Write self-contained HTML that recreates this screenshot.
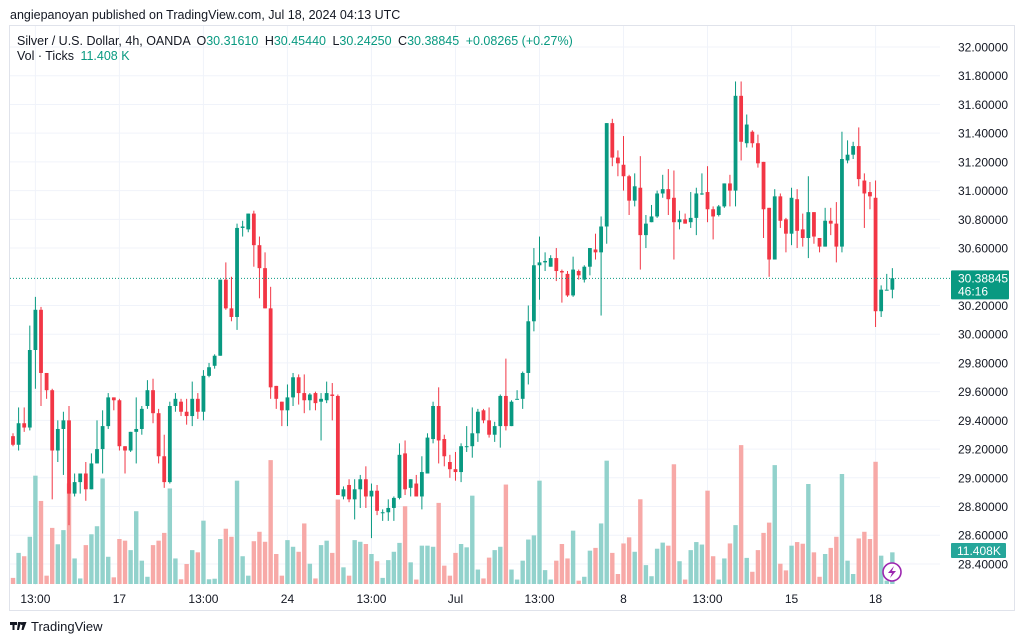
<!DOCTYPE html>
<html><head><meta charset="utf-8"><style>
html,body{margin:0;padding:0;background:#fff;width:1024px;height:643px;overflow:hidden;font-family:"Liberation Sans",sans-serif;}
svg text{font-family:"Liberation Sans",sans-serif;}
</style></head><body>
<svg id="chart" width="1024" height="643" viewBox="0 0 1024 643" xmlns="http://www.w3.org/2000/svg">
<text x="10" y="19" font-size="12.5" fill="#131722">angiepanoyan published on TradingView.com, Jul 18, 2024 04:13 UTC</text>
<rect x="9.5" y="25.5" width="1005" height="585" fill="none" stroke="#e0e3eb"/>
<g id="grid"></g>
<g id="vol"></g>
<g id="candles"></g>
<g id="axis"></g>
<g font-size="12.5">
<text x="17" y="45" fill="#131722">Silver / U.S. Dollar, 4h, OANDA <tspan dx="3">O</tspan><tspan fill="#089981">30.31610</tspan> <tspan dx="3">H</tspan><tspan fill="#089981">30.45440</tspan> <tspan dx="3">L</tspan><tspan fill="#089981">30.24250</tspan> <tspan dx="3">C</tspan><tspan fill="#089981">30.38845</tspan> <tspan dx="3" fill="#089981">+0.08265 (+0.27%)</tspan></text>
<text x="17" y="60" fill="#131722">Vol · Ticks <tspan dx="3" fill="#089981">11.408 K</tspan></text>
</g>
<g>
<path d="M10 622h7v3h-2.5v5h-2v-5h-2.5z M18 622h3l-2 8h-2z" fill="#131722"/>
<circle cx="22" cy="623.5" r="1.5" fill="#131722"/>
<path d="M23 622h3.5l-3 8h-2z" fill="#131722"/>
<text x="31" y="631" font-size="13" fill="#131722">TradingView</text>
</g>
</svg>
<script>
const opens=[29.29,29.23,29.38,29.35,29.89,30.17,29.73,29.61,29.19,29.34,29.40,28.89,28.97,29.03,28.92,29.10,29.20,29.36,29.56,29.54,29.22,29.19,29.32,29.34,29.50,29.61,29.45,29.15,28.97,29.50,29.53,29.46,29.43,29.55,29.46,29.71,29.78,29.85,30.38,30.18,30.12,30.74,30.73,30.84,30.62,30.46,30.18,29.64,29.53,29.47,29.56,29.70,29.59,29.54,29.59,29.53,29.54,29.58,29.57,28.87,28.95,28.85,28.92,28.99,28.87,28.91,28.76,28.76,28.79,28.86,29.17,28.93,28.96,28.87,29.03,29.27,29.50,29.27,29.11,29.06,29.04,29.22,29.22,29.31,29.47,29.40,29.30,29.36,29.57,29.36,29.55,29.55,29.73,30.09,30.48,30.50,30.47,30.53,30.44,30.42,30.27,30.44,30.38,30.47,30.59,30.57,30.75,31.47,31.23,31.18,31.10,30.93,31.02,30.69,30.78,30.82,30.98,31.01,30.95,30.78,30.80,30.78,30.81,30.98,30.99,30.87,30.83,30.89,31.05,31.00,31.66,31.33,31.41,31.33,31.20,30.88,30.52,30.96,30.80,30.70,30.94,30.73,30.67,30.85,30.67,30.61,30.79,30.77,30.61,31.21,31.25,31.31,31.07,30.99,30.95,30.16,30.31,30.31];
const highs=[29.31,29.49,29.49,30.06,30.26,30.19,29.73,29.62,29.40,29.46,29.50,29.03,29.03,29.11,29.17,29.40,29.47,29.59,29.56,29.55,29.22,29.32,29.56,29.50,29.68,29.69,29.48,29.30,29.53,29.59,29.55,29.55,29.67,29.59,29.75,29.80,29.86,30.38,30.50,30.40,30.77,30.79,30.84,30.86,30.68,30.57,30.33,29.64,29.53,29.65,29.73,29.72,29.72,29.59,29.60,29.59,29.67,29.66,29.58,28.94,28.99,28.99,29.02,29.08,28.96,28.95,28.78,28.85,28.87,29.24,29.26,28.99,29.02,29.15,29.31,29.53,29.63,29.30,29.16,29.18,29.24,29.36,29.49,29.48,29.48,29.49,29.39,29.58,29.83,29.54,29.61,29.74,30.20,30.60,30.68,30.57,30.55,30.60,30.45,30.44,30.54,30.45,30.48,30.60,30.70,30.82,31.47,31.50,31.28,31.38,31.11,31.12,31.24,30.83,30.90,31.00,31.11,31.15,31.14,30.86,30.84,30.99,31.02,31.12,31.17,30.89,30.90,31.05,31.11,31.76,31.76,31.53,31.42,31.39,31.20,30.88,31.01,30.98,30.81,31.02,31.01,30.84,31.10,30.85,30.67,30.88,30.88,30.92,31.41,31.35,31.34,31.44,31.12,31.06,31.07,30.34,30.42,30.46];
const lows=[29.22,29.19,29.32,29.33,29.62,29.50,29.55,28.85,29.11,29.02,28.67,28.87,28.89,28.84,28.92,29.10,29.03,29.34,29.47,29.19,29.03,29.18,29.10,29.30,29.48,29.38,29.10,28.93,28.96,29.46,29.43,29.37,29.36,29.41,29.40,29.70,29.76,29.85,30.17,30.09,30.03,30.68,30.71,30.47,30.25,30.18,29.55,29.48,29.36,29.36,29.50,29.51,29.45,29.47,29.47,29.26,29.52,29.40,28.88,28.85,28.83,28.71,28.79,28.79,28.58,28.74,28.70,28.70,28.70,28.85,28.88,28.87,28.87,28.78,29.03,29.24,29.10,29.08,29.00,28.98,28.97,29.18,29.14,29.25,29.38,29.28,29.25,29.21,29.33,29.36,29.55,29.48,29.65,30.02,30.24,30.44,30.47,30.37,30.22,30.26,30.26,30.38,30.36,30.41,30.52,30.13,30.63,31.17,31.10,31.00,30.83,30.89,30.45,30.60,30.78,30.81,30.95,30.83,30.52,30.73,30.77,30.74,30.69,30.97,30.78,30.66,30.82,30.88,30.89,30.89,31.21,31.30,31.30,31.16,30.67,30.40,30.52,30.74,30.57,30.62,30.60,30.61,30.53,30.63,30.57,30.61,30.69,30.50,30.57,31.19,31.22,31.03,30.74,30.87,30.05,30.12,30.31,30.25];
const closes=[29.23,29.38,29.35,29.89,30.17,29.73,29.61,29.19,29.34,29.40,28.89,28.97,29.03,28.92,29.10,29.20,29.36,29.56,29.54,29.22,29.19,29.32,29.34,29.48,29.61,29.45,29.15,28.97,29.50,29.55,29.46,29.43,29.55,29.46,29.71,29.77,29.85,30.38,30.18,30.12,30.74,30.75,30.84,30.62,30.46,30.18,29.63,29.55,29.47,29.56,29.70,29.59,29.54,29.58,29.52,29.55,29.59,29.57,28.88,28.92,28.85,28.92,28.99,28.87,28.91,28.77,28.76,28.79,28.86,29.16,28.92,28.99,28.87,29.04,29.28,29.50,29.26,29.15,29.06,29.04,29.22,29.22,29.31,29.46,29.40,29.30,29.36,29.57,29.36,29.53,29.55,29.73,30.09,30.48,30.50,30.51,30.53,30.44,30.43,30.27,30.45,30.41,30.47,30.60,30.57,30.75,31.47,31.23,31.19,31.10,30.93,31.03,30.69,30.77,30.82,30.98,31.01,30.94,30.78,30.80,30.77,30.81,30.98,30.98,30.87,30.82,30.89,31.05,31.00,31.66,31.34,31.46,31.33,31.19,30.87,30.52,30.96,30.79,30.70,30.95,30.72,30.67,30.85,30.68,30.61,30.79,30.77,30.61,31.22,31.25,31.31,31.08,30.98,30.96,30.16,30.31,30.31,30.39];
const volumes=[2.2,11.2,10.0,17.0,39.0,29.9,3.0,20.2,14.3,19.4,36.2,9.2,2.0,14.0,17.9,20.8,38.0,9.8,2.4,16.2,15.6,12.2,26.2,8.4,2.6,14.0,15.6,18.4,34.4,9.2,1.7,7.2,12.2,11.4,22.8,1.7,1.9,16.2,19.9,17.0,37.2,10.0,3.0,15.4,18.8,15.2,44.6,10.8,3.0,15.8,13.4,11.6,21.8,7.3,2.0,14.0,15.6,11.2,30.4,6.0,3.0,15.8,15.2,14.4,10.8,8.2,2.2,8.6,11.6,14.8,28.0,7.8,1.6,13.8,13.8,13.4,29.2,6.6,3.0,11.2,14.4,13.2,31.8,5.2,2.0,9.5,12.2,13.4,35.8,5.2,1.6,8.4,16.0,17.5,37.2,5.0,1.6,8.4,14.4,9.2,19.2,1.2,2.6,12.0,13.0,21.8,44.4,11.2,3.6,14.6,16.8,11.6,30.5,6.8,2.8,12.7,14.9,13.8,43.1,8.2,1.6,12.2,15.1,14.2,33.6,10.0,1.6,9.2,14.6,21.2,50.0,9.4,4.4,12.2,18.4,22.1,42.8,7.3,4.9,13.8,15.1,14.5,36.0,11.4,2.6,10.8,13.0,17.0,39.6,8.4,3.6,16.4,18.8,16.2,44.0,10.2,1.2,11.4];
const priceTicks=[32.0,31.8,31.6,31.4,31.2,31.0,30.8,30.6,30.2,30.0,29.8,29.6,29.4,29.2,29.0,28.8,28.6,28.4];
const timeLabels=["13:00","17","13:00","24","13:00","Jul","13:00","8","13:00","15","18"];
const timeIndex=[4,19,34,49,64,79,94,109,124,139,154];
const lastPrice=30.38845, lastVolume=11.408;

const NS="http://www.w3.org/2000/svg";
const yP=p=>47+(32-p)*143.6;
const xI=i=>13+i*5.601;
const yV=v=>584-v/0.36;
function mk(tag,attrs,parent){const e=document.createElementNS(NS,tag);for(const k in attrs)e.setAttribute(k,attrs[k]);parent.appendChild(e);return e;}
const grid=document.getElementById('grid'),vol=document.getElementById('vol'),cg=document.getElementById('candles'),ax=document.getElementById('axis');
priceTicks.forEach(p=>{
  const l=mk('line',{x1:10,x2:940,y1:yP(p),y2:yP(p),stroke:'#f0f3fa'},grid);
  
  
  const t=mk('text',{x:958,y:yP(p)+4.5,'font-size':12,fill:'#131722'},ax);
  
  
  t.textContent=p.toFixed(5);
});
timeLabels.forEach((s,k)=>{
  const x=xI(timeIndex[k])+(k===0?0:0);
  const l=mk('line',{x1:x,x2:x,y1:26,y2:585,stroke:'#f0f3fa'},grid);
  
  
  const t=mk('text',{x:x,y:603,'font-size':12,fill:'#131722','text-anchor':'middle'},ax);
  
  
  t.textContent=s;
});
volumes.forEach((v,i)=>{
  const up=closes[i]>=opens[i];
  const r=mk('rect',{x:xI(i)-2.2,y:yV(v),width:4.4,height:584-yV(v),fill:up?'#92d2cc':'#f7a9a7'},vol);
  
  
});
opens.forEach((o,i)=>{
  const c=closes[i],up=c>=o,col=up?'#089981':'#f23645';
  const g=mk('g',{},cg);
  
  
  mk('line',{x1:xI(i),x2:xI(i),y1:yP(highs[i]),y2:yP(lows[i]),stroke:col,'stroke-width':1},g);
  const top=yP(Math.max(o,c)),h=Math.max(1,yP(Math.min(o,c))-top);
  mk('rect',{x:xI(i)-1.9,y:top,width:3.8,height:h,fill:col},g);
});
const ly=yP(lastPrice);
const dl=mk('line',{x1:10,x2:950,y1:ly,y2:ly,stroke:'#089981','stroke-dasharray':'1 2'},ax);


const pb=mk('rect',{x:951,y:ly-8,width:58,height:29,fill:'#089981',rx:1},ax);


const pt=mk('text',{x:958,y:ly+4,'font-size':12,fill:'#fff'},ax);


pt.textContent=lastPrice.toFixed(5);
const ct=mk('text',{x:958,y:ly+17,'font-size':12,fill:'#fff'},ax);


ct.textContent='46:16';
const vy=yV(lastVolume);
const vb=mk('rect',{x:951,y:543,width:55,height:15,fill:'#26a69a',rx:1},ax);


const vt=mk('text',{x:957,y:555,'font-size':12,fill:'#fff'},ax);


vt.textContent=lastVolume.toFixed(3)+'K';
const bolt=mk('g',{},ax);


mk('circle',{cx:892,cy:572,r:9,fill:'#fff',stroke:'#9c27b0','stroke-width':1.6},bolt);
mk('path',{d:'M894 566 L888 573 L892 573 L890 578 L896 571 L892 571 Z',fill:'#9c27b0'},bolt);
</script>
</body></html>
